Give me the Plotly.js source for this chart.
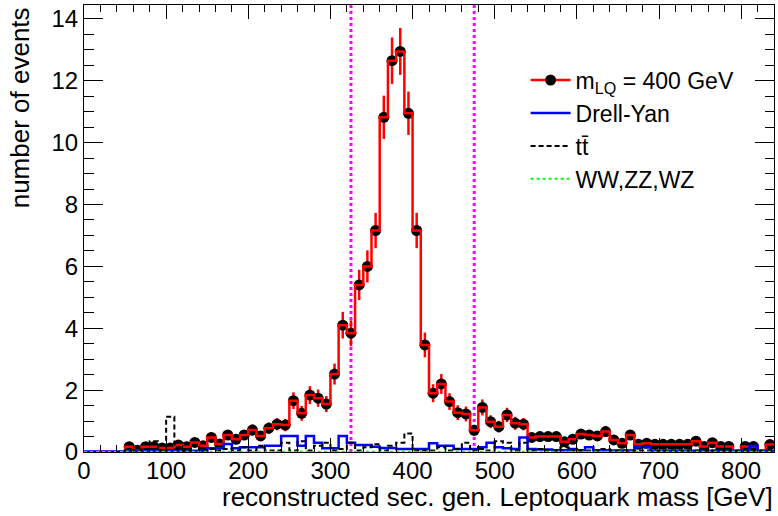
<!DOCTYPE html>
<html>
<head>
<meta charset="utf-8">
<script src="https://cdn.plot.ly/plotly-3.0.1.min.js"></script>
<style>html,body{margin:0;padding:0;background:#fff;}</style>
</head>
<body>
<div id="chart" style="width:778px;height:516px;"></div>
<script>
// 10 GeV bins, lower edges
const binLow = [0,10,20,30,40,50,60,70,80,90,100,110,120,130,140,150,160,170,180,190,
  200,210,220,230,240,250,260,270,280,290,300,310,320,330,340,350,360,370,380,390,
  400,410,420,430,440,450,460,470,480,490,500,510,520,530,540,550,560,570,580,590,
  600,610,620,630,640,650,660,670,680,690,700,710,720,730,740,750,760,770,780,790,
  800,810,820,830];
const binUpperEnd = 840;

// signal m_LQ = 400 GeV (events per bin)
const signal = [0,0,0,0,0,0.17,0.06,0.17,0.17,0.13,0.13,0.23,0.17,0.31,0.20,0.47,0.26,0.55,0.41,0.55,
  0.71,0.52,0.77,0.90,0.87,1.66,1.25,1.84,1.74,1.55,2.52,4.10,3.84,5.40,6.00,7.16,10.82,12.65,12.95,10.95,
  7.16,3.46,1.90,2.20,1.63,1.27,1.23,0.70,1.44,0.98,0.82,1.20,0.93,0.90,0.47,0.50,0.50,0.50,0.33,0.41,
  0.58,0.55,0.52,0.66,0.39,0.28,0.55,0.25,0.28,0.25,0.25,0.25,0.25,0.25,0.35,0.18,0.30,0.18,0.18,0,
  0.18,0.18,0,0.24];
const signalErr = [0,0,0,0,0,0.09,0.05,0.09,0.09,0.08,0.08,0.10,0.09,0.12,0.10,0.15,0.11,0.16,0.14,0.16,
  0.18,0.15,0.19,0.20,0.20,0.27,0.24,0.29,0.28,0.26,0.34,0.43,0.42,0.49,0.52,0.57,0.70,0.75,0.76,0.70,
  0.57,0.40,0.29,0.32,0.27,0.24,0.24,0.18,0.26,0.21,0.19,0.23,0.21,0.20,0.15,0.15,0.15,0.15,0.12,0.14,
  0.16,0.16,0.15,0.17,0.13,0.11,0.16,0.11,0.11,0.11,0.11,0.11,0.11,0.11,0.13,0.09,0.12,0.09,0.09,0,
  0.09,0.09,0,0.10];
// Drell-Yan background
const drellYan = [0.02,0.02,0.02,0.02,0.02,0.04,0.04,0.04,0.04,0.04,0.04,0.04,0.04,0.04,0.04,0.12,0.12,0.26,0.12,0.15,
  0.15,0.15,0.20,0.20,0.52,0.52,0.20,0.52,0.30,0.12,0.12,0.52,0.30,0.23,0.23,0.17,0.13,0.13,0.10,0.10,
  0.10,0.10,0.28,0.20,0.20,0.10,0.10,0.10,0.15,0.30,0.15,0.12,0.10,0.47,0.10,0.08,0.08,0.06,0.06,0.10,
  0.06,0.15,0.06,0.06,0.05,0.05,0.05,0.15,0.15,0.04,0.04,0.04,0.04,0.04,0.04,0.04,0.04,0.04,0.04,0.04,
  0.04,0.19,0.04,0.04];
// ttbar background
const ttbar = [0,0,0,0,0,0.05,0.05,0.10,0.35,0.05,1.14,0.10,0.05,0.20,0.05,0.10,0.05,0.10,0.05,0.15,
  0.05,0.20,0.05,0.05,0.30,0.05,0.35,0.05,0.20,0.30,0.05,0.10,0.30,0.05,0.15,0.25,0.05,0.20,0.30,0.60,
  0.05,0.05,0.05,0.15,0.05,0.10,0.30,0.05,0.10,0.05,0.35,0.30,0.05,0.30,0.05,0.10,0.05,0.05,0.15,0.05,
  0.05,0.05,0.05,0.10,0.05,0.05,0.05,0.05,0.05,0.05,0.05,0.05,0.05,0.05,0.05,0.05,0.05,0.05,0.05,0.05,
  0.05,0.05,0.05,0.05];
// diboson background
const diboson = [0,0,0,0,0,0.01,0.01,0.01,0.01,0.01,0.01,0.01,0.01,0.01,0.01,0.01,0.01,0.01,0.01,0.01,
  0.01,0.01,0.01,0.01,0.01,0.01,0.01,0.01,0.01,0.01,0.01,0.01,0.01,0.01,0.01,0.01,0.01,0.01,0.01,0.01,
  0.01,0.01,0.01,0.01,0.01,0.01,0.01,0.01,0.01,0.01,0.01,0.01,0.01,0.01,0.01,0.01,0.01,0.01,0.01,0.01,
  0.01,0.01,0.01,0.01,0.01,0.01,0.01,0.01,0.01,0.01,0.01,0.01,0.01,0.01,0.01,0.01,0.01,0.01,0.01,0.01,
  0.01,0.01,0.01,0.01];
const windowEdges = [325, 475];
const legendNames = ['m<sub>LQ</sub> = 400 GeV', 'Drell-Yan', 'tt\u0304', 'WW,ZZ,WZ'];

const edges = binLow.concat([binUpperEnd]);
const centers = binLow.map((v, i) => (v + edges[i + 1]) / 2);
function stepY(vals) { return vals.concat([vals[vals.length - 1]]); }

const FONT = 'Liberation Sans, Arial, Helvetica, sans-serif';

const traces = [
  // legend-only entry for signal
  {x: [null], y: [null], type: 'scatter', mode: 'lines+markers', name: legendNames[0],
   line: {color: '#ff0000', width: 2.5}, marker: {color: '#000', size: 11, symbol: 'circle'}, showlegend: true},
  // signal points
  {x: centers, y: signal.map(v => v > 0 ? v : null), type: 'scatter', mode: 'markers',
   marker: {color: '#000', size: 11, symbol: 'circle'},
   error_y: {type: 'data', array: signalErr, visible: true, color: '#ff0000', thickness: 2.5, width: 0},
   showlegend: false, hoverinfo: 'skip'},
  // signal histogram line
  {x: edges, y: stepY(signal), type: 'scatter', mode: 'lines', line: {shape: 'hv', color: '#ff0000', width: 2.5},
   showlegend: false, hoverinfo: 'skip'},
  {x: edges, y: stepY(drellYan), type: 'scatter', mode: 'lines', name: legendNames[1],
   line: {shape: 'hv', color: '#0000ff', width: 2.5}},
  {x: edges, y: stepY(ttbar), type: 'scatter', mode: 'lines', name: legendNames[2],
   line: {shape: 'hv', color: '#000000', width: 2, dash: '5px,3px'}},
  {x: edges, y: stepY(diboson), type: 'scatter', mode: 'lines', name: legendNames[3],
   line: {shape: 'hv', color: '#00ff00', width: 2, dash: 'dot'}}
];

const layout = {
  width: 778, height: 516, autosize: false,
  margin: {l: 84, r: 4, t: 5, b: 64, pad: 0},
  paper_bgcolor: '#fff', plot_bgcolor: '#fff',
  font: {family: FONT, size: 24, color: '#000'},
  showlegend: true,
  legend: {x: 0.64, xanchor: 'left', y: 0.88, yanchor: 'top', bgcolor: 'rgba(0,0,0,0)',
           font: {family: FONT, size: 23, color: '#000'}, itemwidth: 40, tracegroupgap: 0},
  xaxis: {range: [0, 840], tick0: 0, dtick: 100, ticks: 'inside', ticklen: 14, tickwidth: 1, tickcolor: '#000',
          minor: {dtick: 20, ticks: 'inside', ticklen: 7, tickwidth: 1, tickcolor: '#000'},
          showline: true, linecolor: '#000', linewidth: 1, mirror: 'allticks', ticklabelstandoff: -3,
          showgrid: false, zeroline: false, tickfont: {family: FONT, size: 24, color: '#000'}},
  yaxis: {range: [0, 14.45], tick0: 0, dtick: 2, ticks: 'inside', ticklen: 19, tickwidth: 1, tickcolor: '#000',
          minor: {dtick: 0.5, ticks: 'inside', ticklen: 9.5, tickwidth: 1, tickcolor: '#000'},
          showline: true, linecolor: '#000', linewidth: 1, mirror: 'allticks',
          showgrid: false, zeroline: false, tickfont: {family: FONT, size: 24, color: '#000'}},
  shapes: windowEdges.map(v => ({type: 'line', xref: 'x', yref: 'paper', x0: v, x1: v, y0: 0, y1: 1,
    layer: 'below', line: {color: '#ff00ff', width: 3, dash: 'dot'}})),
  annotations: [
    {text: 'reconstructed sec. gen. Leptoquark mass [GeV]', xref: 'paper', yref: 'paper',
     x: 1.002, xanchor: 'right', y: -0.1, yanchor: 'middle', showarrow: false,
     font: {family: FONT, size: 26, color: '#000'}},
    {text: 'number of events', xref: 'paper', yref: 'paper', textangle: -90,
     x: -0.093, xanchor: 'center', y: 1, yanchor: 'top', showarrow: false,
     font: {family: FONT, size: 26, color: '#000'}}
  ]
};

Plotly.newPlot('chart', traces, layout, {staticPlot: true, displayModeBar: false});
</script>
</body>
</html>
